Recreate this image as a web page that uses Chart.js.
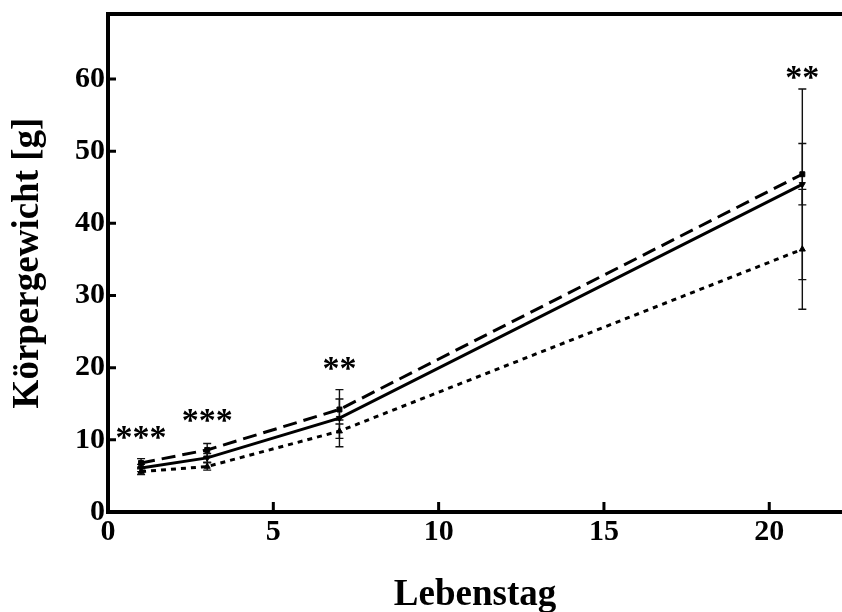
<!DOCTYPE html>
<html>
<head>
<meta charset="utf-8">
<script src="https://cdn.jsdelivr.net/npm/chart.js@4.4.1/dist/chart.umd.min.js"></script>
<style>
  html, body { margin: 0; padding: 0; background: #fff; }
  #wrap { width: 842px; height: 612px; }
</style>
</head>
<body>
<div id="wrap"><canvas id="chart-weight"></canvas></div>
<script>
// ── Data ────────────────────────────────────────────────────
const days        = [1, 3, 7, 21];
const meanDashed  = [6.8, 8.6, 14.2, 46.8];
const sdDashed    = [0.6, 0.9, 1.45, 4.25];
const meanSolid   = [6.1, 7.5, 13.0, 45.4];
const sdSolid     = [0.5, 0.6, 3.95, 13.2];
const meanDotted  = [5.6, 6.3, 11.2, 36.4];
const sdDotted    = [0.4, 0.5, 1.0, 8.3];
const sigLabels   = ['***', '***', '**', '**'];
const sigLevels   = [11.1, 13.4, 20.7, 60.9];
const xTicks      = [0, 5, 10, 15, 20];
const yTicks      = [0, 10, 20, 30, 40, 50, 60];

const SERIF = "'Liberation Serif', 'Times New Roman', serif";

function pts(means) { return days.map((d, i) => ({ x: d, y: means[i] })); }

// ── Plugins ─────────────────────────────────────────────────
const errorBars = {
  id: 'errorBars',
  beforeDatasetsDraw(chart) {
    const { ctx, scales: { x, y } } = chart;
    ctx.save();
    ctx.strokeStyle = '#111';
    ctx.lineWidth = 1.4;
    chart.data.datasets.forEach(ds => {
      ds.sd.forEach((s, i) => {
        const px  = x.getPixelForValue(days[i]);
        const top = y.getPixelForValue(ds.means[i] + s);
        const bot = y.getPixelForValue(ds.means[i] - s);
        ctx.beginPath();
        ctx.moveTo(px, top); ctx.lineTo(px, bot);
        ctx.moveTo(px - 4, top); ctx.lineTo(px + 4, top);
        ctx.moveTo(px - 4, bot); ctx.lineTo(px + 4, bot);
        ctx.stroke();
      });
    });
    ctx.restore();
  }
};

const frameAndTicks = {
  id: 'frameAndTicks',
  afterDraw(chart) {
    const { ctx, chartArea: a, scales: { x, y } } = chart;
    ctx.save();
    ctx.strokeStyle = '#000';
    // top frame line
    ctx.lineWidth = 4;
    ctx.beginPath();
    ctx.moveTo(a.left - 2, a.top); ctx.lineTo(chart.width, a.top);
    ctx.stroke();
    // inward tick marks
    ctx.lineWidth = 3;
    ctx.beginPath();
    yTicks.forEach(v => {
      if (v === 0) return;
      const py = y.getPixelForValue(v);
      ctx.moveTo(a.left, py); ctx.lineTo(a.left + 8, py);
    });
    xTicks.forEach(v => {
      if (v === 0) return;
      const px = x.getPixelForValue(v);
      ctx.moveTo(px, a.bottom); ctx.lineTo(px, a.bottom - 10);
    });
    ctx.stroke();
    // significance stars
    ctx.fillStyle = '#000';
    ctx.font = 'bold 34px ' + SERIF;
    ctx.textAlign = 'center';
    ctx.textBaseline = 'alphabetic';
    sigLabels.forEach((t, i) => {
      ctx.fillText(t, x.getPixelForValue(days[i]), y.getPixelForValue(sigLevels[i]) + 16);
    });
    ctx.restore();
  }
};

// ── Chart ───────────────────────────────────────────────────
const lineBase = {
  borderColor: '#000', backgroundColor: '#000',
  borderWidth: 3, pointRadius: 3.5, pointBorderWidth: 1,
  showLine: true, tension: 0, fill: false
};

new Chart(document.getElementById('chart-weight'), {
  type: 'scatter',
  data: {
    datasets: [
      { ...lineBase, label: 'A', data: pts(meanDashed), means: meanDashed, sd: sdDashed, borderDash: [14, 7], pointStyle: 'rect' },
      { ...lineBase, label: 'B', data: pts(meanSolid),  means: meanSolid,  sd: sdSolid,  pointStyle: 'triangle', rotation: 180 },
      { ...lineBase, label: 'C', data: pts(meanDotted), means: meanDotted, sd: sdDotted, borderDash: [5, 5], pointStyle: 'triangle' }
    ]
  },
  options: {
    responsive: true, maintainAspectRatio: false, animation: false,
    layout: { autoPadding: false, padding: { top: 14, right: 0, left: 0, bottom: 0 } },
    plugins: { legend: { display: false }, tooltip: { enabled: false } },
    scales: {
      x: {
        type: 'linear', min: 0, max: 22.2,
        afterFit: s => { s.height = 100; s.paddingLeft = 0; s.paddingRight = 0; },
        afterBuildTicks: s => { s.ticks = xTicks.map(v => ({ value: v })); },
        grid: { display: false, drawTicks: false },
        border: { display: true, color: '#000', width: 4 },
        ticks: { padding: 2, color: '#000', font: { family: SERIF, size: 30, weight: 'bold' } },
        title: { display: true, text: 'Lebenstag', color: '#000', padding: { top: 0, bottom: -2 },
                 font: { family: SERIF, size: 37, weight: 'bold', lineHeight: 1 } }
      },
      y: {
        min: 0, max: 69,
        afterFit: s => { s.width = 108; s.paddingTop = 0; s.paddingBottom = 0; },
        afterBuildTicks: s => { s.ticks = yTicks.map(v => ({ value: v })); },
        grid: { display: false, drawTicks: false },
        border: { display: true, color: '#000', width: 4 },
        ticks: { padding: 3, color: '#000', font: { family: SERIF, size: 30, weight: 'bold' } },
        title: { display: true, text: 'Körpergewicht [g]', color: '#000', padding: { top: 6, bottom: 0 },
                 font: { family: SERIF, size: 37, weight: 'bold', lineHeight: 1.2 } }
      }
    }
  },
  plugins: [errorBars, frameAndTicks]
});
</script>
</body>
</html>
